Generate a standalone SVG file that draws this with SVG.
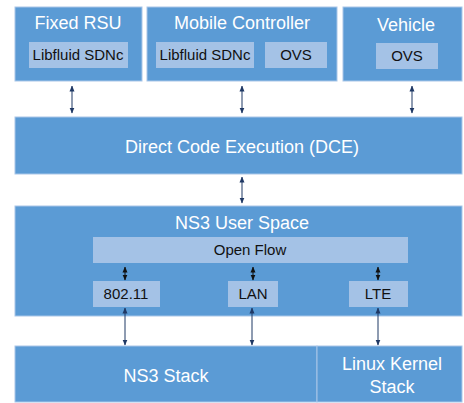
<svg xmlns="http://www.w3.org/2000/svg" width="464" height="403" viewBox="0 0 464 403">
<defs>
<marker id="ah" viewBox="0 0 6 6" refX="5.5" refY="3" markerWidth="6" markerHeight="6" markerUnits="userSpaceOnUse" orient="auto-start-reverse">
<path d="M0,0.5 L6,3 L0,5.5 z" fill="#1f3864"/>
</marker>
<marker id="ahk" viewBox="0 0 6 6" refX="5.5" refY="3" markerWidth="6" markerHeight="6" markerUnits="userSpaceOnUse" orient="auto-start-reverse">
<path d="M0,0.5 L6,3 L0,5.5 z" fill="#111"/>
</marker>
<style>
.b{fill:#5b9bd5;stroke:#a9c6e8;stroke-width:1}
.l{fill:#a4c2e6;stroke:none}
.tw{font-family:"Liberation Sans",Arial,sans-serif;fill:#fff;text-anchor:middle;font-size:18px}
.tk{font-family:"Liberation Sans",Arial,sans-serif;fill:#111;text-anchor:middle;font-size:15px}
.c{stroke:#1f3864;stroke-width:1;fill:none;marker-start:url(#ah);marker-end:url(#ah)}
.ck{stroke:#111;stroke-width:1;fill:none;marker-start:url(#ahk);marker-end:url(#ahk)}
</style>
</defs>
<g id="fixed-rsu">
<rect class="b" x="15" y="7" width="127" height="74"/>
<text class="tw" x="78" y="29">Fixed RSU</text>
<rect class="l" x="29" y="42" width="99" height="26"/>
<text class="tk" x="78" y="60">Libfluid SDNc</text>
</g>
<g id="mobile-controller">
<rect class="b" x="147" y="7" width="190" height="74"/>
<text class="tw" x="242" y="29">Mobile Controller</text>
<rect class="l" x="156" y="42" width="98" height="26"/>
<text class="tk" x="205" y="60">Libfluid SDNc</text>
<rect class="l" x="265" y="42" width="62" height="26"/>
<text class="tk" x="296" y="60">OVS</text>
</g>
<g id="vehicle">
<rect class="b" x="343" y="7" width="119" height="74"/>
<text class="tw" x="406" y="31">Vehicle</text>
<rect class="l" x="376" y="43" width="62" height="26"/>
<text class="tk" x="407" y="61">OVS</text>
</g>
<g id="dce">
<rect class="b" x="15" y="117" width="447" height="57"/>
<text class="tw" x="242" y="153">Direct Code Execution (DCE)</text>
</g>
<g id="ns3-user-space">
<rect class="b" x="15" y="206" width="447" height="110"/>
<text class="tw" x="242" y="229">NS3 User Space</text>
<rect class="l" x="93" y="237" width="315" height="26"/>
<text class="tk" x="250" y="255">Open Flow</text>
</g>
<g id="wifi">
<rect class="l" x="93" y="281" width="67" height="26"/>
<text class="tk" x="126" y="299">802.11</text>
</g>
<g id="lan">
<rect class="l" x="228" y="281" width="50" height="26"/>
<text class="tk" x="253" y="299">LAN</text>
</g>
<g id="lte">
<rect class="l" x="349" y="281" width="59" height="26"/>
<text class="tk" x="378" y="299">LTE</text>
</g>
<g id="ns3-stack">
<rect class="b" x="15" y="346" width="302" height="56"/>
<text class="tw" x="166" y="382">NS3 Stack</text>
</g>
<g id="linux-kernel-stack">
<rect class="b" x="317" y="346" width="145" height="56"/>
<text class="tw" x="392" y="370">Linux Kernel</text>
<text class="tw" x="392" y="393">Stack</text>
</g>
<g id="connectors">
<line class="c" x1="72" y1="86" x2="72" y2="113"/>
<line class="c" x1="242" y1="86" x2="242" y2="113"/>
<line class="c" x1="412" y1="86" x2="412" y2="113"/>
<line class="c" x1="242" y1="177" x2="242" y2="203"/>
<line class="ck" x1="125" y1="267" x2="125" y2="280"/>
<line class="ck" x1="253" y1="267" x2="253" y2="280"/>
<line class="ck" x1="378" y1="267" x2="378" y2="280"/>
<line class="c" x1="125" y1="308" x2="125" y2="345"/>
<line class="c" x1="252" y1="308" x2="252" y2="345"/>
<line class="c" x1="378" y1="308" x2="378" y2="345"/>
</g>
</svg>
